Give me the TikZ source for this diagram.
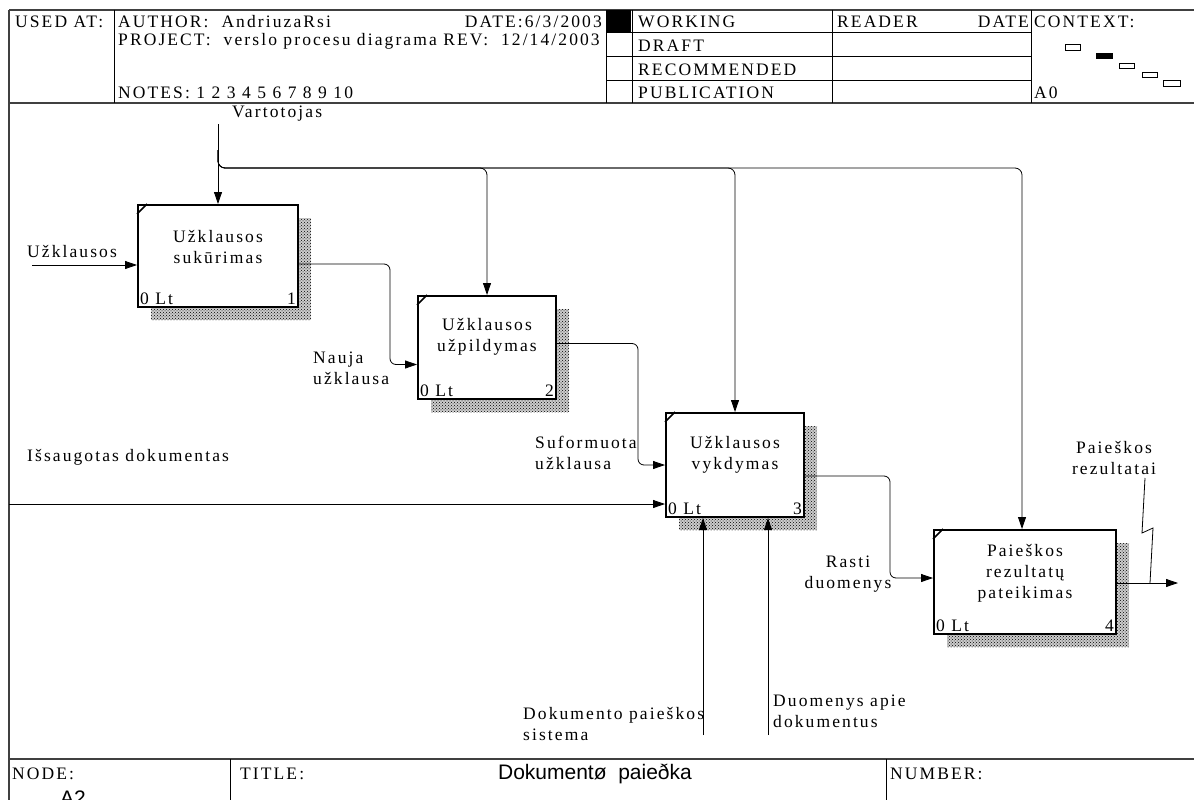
\documentclass[tikz,border=0pt]{standalone}
\usepackage{fontspec}
\setmainfont{Liberation Serif}[LetterSpace=12.0]
\newfontfamily\titlefont{Liberation Sans}
\usetikzlibrary{arrows.meta,positioning,patterns,calc}

\begin{document}
\begin{tikzpicture}[x=1pt,y=-1pt,font=\fontsize{17.5}{21}\selectfont,
  fnbox/.style={draw,line width=2pt,fill=white,inner sep=0pt},
  shade/.style={pattern=crosshatch dots,pattern color=black},
  flow/.style={line width=0.8pt,-{Triangle[length=12pt,width=8pt]}},
  thin/.style={line width=0.8pt},
  frame/.style={line width=1.5pt,draw=black!75},
  lbl/.style={inner sep=0pt,align=left},
  boxtxt/.style={inner sep=0pt,align=center}]
  \useasboundingbox (0,0) rectangle (1194,800);
  \fill[white] (0,0) rectangle (1194,800);

  % header
  \draw[frame] (9,10) -- (1194,10);
  \draw[frame] (9,103) -- (1194,103);
  \draw[frame] (9,10) -- (9,800);
  \foreach \x in {114,606,632,832,1031}
    \draw[thin] (\x,10) -- (\x,103);
  \foreach \y in {32.5,56.5,80}
    \draw[thin] (606,\y) -- (1031,\y);
  \fill (606,10) rectangle (631,32);
  \node[lbl,anchor=base west] (usedat) at (15,28) {USED AT:};
  \node[lbl,anchor=base west] (author) at (118,28) {AUTHOR: \ AndriuzaRsi};
  \node[lbl,anchor=base east] (date) at (602,28) {DATE:6/3/2003};
  \node[lbl,anchor=base west] (project) at (118,46) {PROJECT: \ verslo procesu diagrama REV: \ 12/14/2003};
  \node[lbl,anchor=base west] (notes) at (118,99) {NOTES: 1 2 3 4 5 6 7 8 9 10};
  \node[lbl,anchor=base west] (working) at (638,28) {WORKING};
  \node[lbl,anchor=base west] (draft) at (638,52) {DRAFT};
  \node[lbl,anchor=base west] (recom) at (638,75.5) {RECOMMENDED};
  \node[lbl,anchor=base west] (public) at (638,99) {PUBLICATION};
  \node[lbl,anchor=base west] (reader) at (837,28) {READER};
  \node[lbl,anchor=base east] (rdate) at (1029,28) {DATE};
  \node[lbl,anchor=base west] (context) at (1034,28) {CONTEXT:};
  \node[lbl,anchor=base west] (ctxnode) at (1034,99) {A0};
  \draw[thin] (1065,44) rectangle (1080,50);
  \fill (1096,53) rectangle (1113,59);
  \draw[thin] (1119,63) rectangle (1134,68);
  \draw[thin] (1142,72) rectangle (1157,77);
  \draw[thin] (1163,80) rectangle (1180,86);

  % activity boxes
  \foreach \n/\cx/\cy/\w/\h in {1/218/256/160/102,2/487/347.5/138/103,3/735/465/138/104,4/1025/582/182/104}{
    \fill[gray!40] (\cx-\w/2+13,\cy-\h/2+13) rectangle ++(\w,\h);
    \fill[shade] (\cx-\w/2+13,\cy-\h/2+13) rectangle ++(\w,\h);
    \node[fnbox,minimum width=\w pt,minimum height=\h pt] (b\n) at (\cx,\cy) {};
    \draw[line width=1.5pt] ([yshift=-10pt]b\n.north west) -- ([xshift=10pt]b\n.north west);
    \node[anchor=south west,inner sep=3pt] (b\n lt) at (b\n.south west) {0 Lt};
    \node[anchor=south east,inner sep=3pt] (b\n nr) at (b\n.south east) {\n};
  }
  \node[boxtxt] (b1t) at (218,247) {Užklausos\\sukūrimas};
  \node[boxtxt] (b2t) at (487,337) {Užklausos\\užpildymas};
  \node[boxtxt] (b3t) at (735,455) {Užklausos\\vykdymas};
  \node[boxtxt] (b4t) at (1025,573) {Paieškos\\rezultatų\\pateikimas};

  % controls
  \coordinate (vtop) at (218,124);
  \coordinate (vbr) at (218,150);
  \coordinate (hl) at (0,168);
  \draw[flow] (vtop) -- (b1.north);
  \foreach \b/\dx in {b2/0,b3/0,b4/-3}
    \draw[flow,rounded corners=7pt] (vbr) |- ([xshift=\dx pt]\b.north |- hl) -- ([xshift=\dx pt]\b.north);
  \node[lbl,anchor=west] (vartl) at (232,114) {Vartotojas};

  % inputs and outputs
  \coordinate (uin) at (32,265);
  \draw[flow] (uin) -- (uin -| b1.west);
  \node[lbl,anchor=base west] (uinl) at (27,257) {Užklausos};

  \coordinate (k1) at (390,0);
  \coordinate (b2in) at ([yshift=-17pt]b2.west);
  \draw[flow,rounded corners=6pt] ([yshift=-8pt]b1.east) -| (k1 |- b2in) -- (b2in);
  \node[lbl,anchor=west] (naujal) at (313,368) {Nauja\\užklausa};

  \coordinate (k2) at (638,0);
  \draw[flow,rounded corners=6pt] ([yshift=4pt]b2.east) -| (k2 |- b3.west) -- (b3.west);
  \node[lbl,anchor=west] (sufl) at (535,453) {Suformuota\\užklausa};

  \coordinate (isin) at (9,504);
  \draw[flow] (isin) -- (isin -| b3.west);
  \node[lbl,anchor=west] (isl) at (27,457) {Išsaugotas dokumentas};

  \coordinate (k3) at (890,0);
  \coordinate (b4in) at ([yshift=4pt]b4.west);
  \draw[flow,rounded corners=6pt] ([yshift=-11pt]b3.east) -| (k3 |- b4in) -- (b4in);
  \node[lbl,align=center] (rastil) at (848,574) {Rasti\\duomenys};

  \coordinate (out) at (1178,583);
  \draw[flow] (b4.east |- out) -- (out);
  \node[lbl,align=center] (resl) at (1114,458) {Paieškos\\rezultatai};
  \coordinate (zz) at (1145,478);
  \draw[thin] (zz) -- (1142,533) -- (1153,528) -- (1150,583);

  % mechanisms
  \coordinate (m1) at (703,735);
  \coordinate (m2) at (768,735);
  \draw[flow] (m1) -- (m1 |- b3.south);
  \draw[flow] (m2) -- (m2 |- b3.south);
  \node[lbl,anchor=west] (m1l) at (523,724) {Dokumento paieškos\\sistema};
  \node[lbl,anchor=west] (m2l) at (773,711) {Duomenys apie\\dokumentus};

  % title block
  \draw[frame] (9,759) -- (1194,759);
  \draw[thin] (230,759) -- (230,800);
  \draw[thin] (886,759) -- (886,800);
  \node[lbl,anchor=base west] (nodel) at (12,779) {NODE:};
  \node[lbl,anchor=base west] (titlel) at (240,779) {TITLE:};
  \node[lbl,anchor=base west] (numl) at (890,779) {NUMBER:};
  \node[inner sep=0pt,font=\titlefont\fontsize{21}{24}\selectfont] (title) at (595,774) {Dokumentø \ paieðka};
  \node[inner sep=0pt,anchor=north west,font=\titlefont\fontsize{21}{24}\selectfont] (nodenr) at (60,791) {A2};
\end{tikzpicture}
\end{document}
